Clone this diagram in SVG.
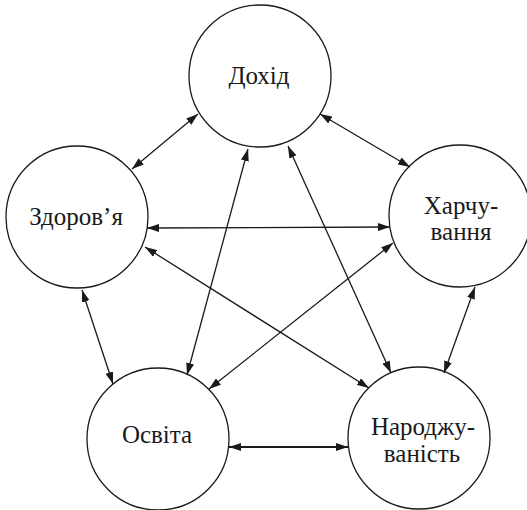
<svg xmlns="http://www.w3.org/2000/svg" width="527" height="510" viewBox="0 0 527 510">
<defs>
<marker id="ah" viewBox="0 0 12 8" refX="12" refY="4" markerWidth="12" markerHeight="8" markerUnits="userSpaceOnUse" orient="auto-start-reverse">
<path d="M0,0 L12,4 L0,8 Z" fill="#1a1a1a"/>
</marker>
</defs>
<style>
.n{fill:#fff;stroke:#1a1a1a;stroke-width:1.3}
.t{font-family:"Liberation Serif","Times New Roman",serif;font-size:25px;fill:#1a1a1a;text-anchor:middle}
.c line{stroke:#1a1a1a;stroke-width:1.3;marker-start:url(#ah);marker-end:url(#ah)}
</style>
<rect width="527" height="510" fill="#fff"/>
<g id="dokhid"><circle class="n" cx="260" cy="76" r="71"/><text class="t" x="259" y="84">Дохід</text></g>
<g id="zdorovia"><circle class="n" cx="77" cy="217" r="71"/><text class="t" x="76" y="225">Здоров’я</text></g>
<g id="kharchuvannia"><circle class="n" cx="460" cy="216" r="71"/><text class="t" x="461" y="214">Харчу-</text><text class="t" x="461" y="240">вання</text></g>
<g id="osvita"><circle class="n" cx="158" cy="439" r="71"/><text class="t" x="157" y="443">Освіта</text></g>
<g id="narodzhuvanist"><circle class="n" cx="419" cy="438" r="71"/><text class="t" x="423" y="435">Народжу-</text><text class="t" x="422" y="462">ваність</text></g>
<g class="c" id="connectors">
<line x1="198" y1="114" x2="132" y2="169"/>
<line x1="320" y1="114" x2="410" y2="167"/>
<line x1="147" y1="228" x2="390" y2="227"/>
<line x1="82" y1="290" x2="113" y2="384"/>
<line x1="145" y1="247" x2="369" y2="388"/>
<line x1="248" y1="149" x2="187" y2="375"/>
<line x1="288" y1="146" x2="391" y2="373"/>
<line x1="393" y1="243" x2="209" y2="389"/>
<line x1="475" y1="287" x2="444" y2="373"/>
<line x1="229" y1="447" x2="348" y2="447" style="stroke-width:1.8"/>
</g>
</svg>
